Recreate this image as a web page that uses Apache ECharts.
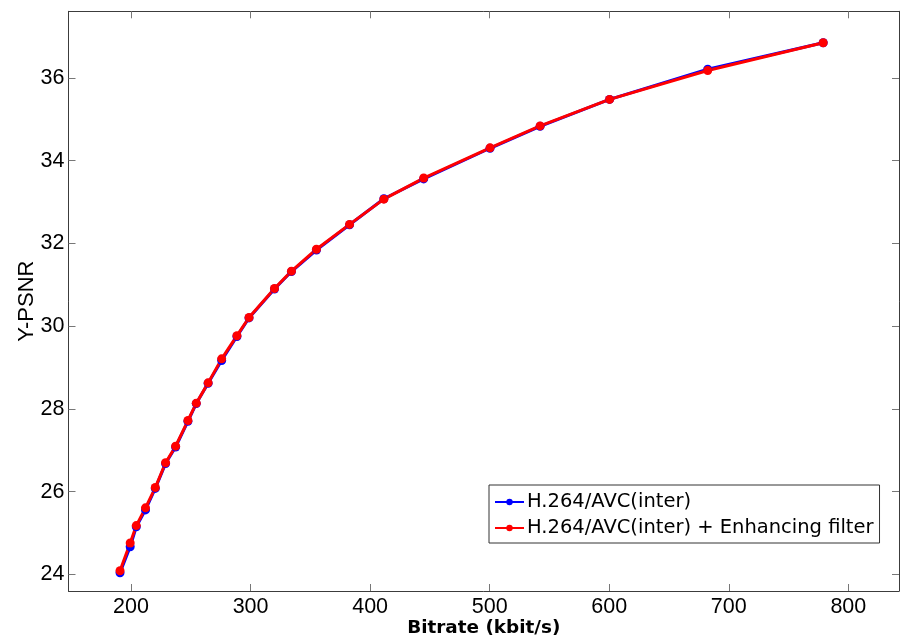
<!DOCTYPE html>
<html><head><meta charset="utf-8">
<script src="https://cdn.jsdelivr.net/npm/echarts@6/dist/echarts.min.js"></script>
<style>html,body{margin:0;padding:0;background:#fff}#c{width:900px;height:641px}</style>
</head><body><div id="c"></div>
<script>
const bitrate = [190.8,199.3,204.4,212.1,220.3,228.9,237.3,247.6,254.6,264.5,275.8,288.6,298.7,320.0,334.2,355.1,382.8,411.5,444.8,500.3,542.2,600.3,682.4,779.0];
const psnrInter = [24.04,24.67,25.15,25.56,26.08,26.68,27.08,27.70,28.13,28.62,29.17,29.75,30.20,30.90,31.32,31.84,32.45,33.08,33.56,34.30,34.83,35.48,36.21,36.85];
const psnrFilter = [24.09,24.76,25.18,25.61,26.10,26.70,27.10,27.72,28.14,28.63,29.21,29.77,30.21,30.91,31.33,31.86,32.46,33.07,33.58,34.31,34.84,35.48,36.18,36.85];
const xTicks = [200,300,400,500,600,700,800];
const yTicks = [24,26,28,30,32,34,36];
const seriesNames = ['H.264/AVC(inter)','H.264/AVC(inter) + Enhancing filter'];

const FONT = '"Liberation Sans", Arial, sans-serif';
const WIDE = '"DejaVu Sans", sans-serif';
const axisColor = '#3c3c3c';
const xMin = 147.7, xMax = 842.4, yMin = 23.6, yMax = 37.61;

function pairs(xs, ys){ return xs.map((x,i)=>[x, ys[i]]); }

const chart = echarts.init(document.getElementById('c'), null, {renderer:'canvas'});
const baseX = {
  type:'value', min:xMin, max:xMax,
  axisLine:{show:true, onZero:false, lineStyle:{color:axisColor, width:1}},
  splitLine:{show:false}
};
const baseY = {
  type:'value', min:yMin, max:yMax,
  axisLine:{show:true, onZero:false, lineStyle:{color:axisColor, width:1}},
  splitLine:{show:false}
};
chart.setOption({
  animation:false,
  backgroundColor:'#fff',
  grid:{left:68.5, right:1, top:11.3, bottom:50, containLabel:false, outerBoundsMode:'none'},
  xAxis:[
    Object.assign({}, baseX, {
      position:'bottom',
      name:'Bitrate (kbit/s)', nameLocation:'middle', nameGap:28, nameMoveOverlap:false,
      nameTextStyle:{fontFamily:WIDE, fontSize:18.4, fontWeight:'bold', color:'#000'},
      axisTick:{show:true, inside:true, length:7, customValues:xTicks, lineStyle:{color:'#777'}},
      axisLabel:{show:true, margin:5, customValues:xTicks, fontFamily:FONT, fontSize:21.5, color:'#000'}
    }),
    Object.assign({}, baseX, {
      position:'top',
      axisTick:{show:true, inside:true, length:7, customValues:xTicks, lineStyle:{color:'#777'}},
      axisLabel:{show:false}
    })
  ],
  yAxis:[
    Object.assign({}, baseY, {
      position:'left',
      name:'Y-PSNR', nameLocation:'middle', nameGap:31, nameMoveOverlap:false,
      nameTextStyle:{fontFamily:FONT, fontSize:22, color:'#000'},
      axisTick:{show:true, inside:true, length:7, customValues:yTicks, lineStyle:{color:'#777'}},
      axisLabel:{show:true, margin:4, customValues:yTicks, fontFamily:FONT, fontSize:21.5, color:'#000'}
    }),
    Object.assign({}, baseY, {
      position:'right',
      axisTick:{show:true, inside:true, length:7, customValues:yTicks, lineStyle:{color:'#777'}},
      axisLabel:{show:false}
    })
  ],
  legend:{
    show:true, orient:'vertical', left:489, top:485,
    backgroundColor:'#fff', borderColor:'#333', borderWidth:1,
    padding:[7,6,5,5], itemGap:6, itemWidth:29, itemHeight:8,
    textStyle:{fontFamily:WIDE, fontSize:19.5, lineHeight:20, color:'#000', padding:[0,0,0,-2]},
    data:seriesNames
  },
  series:[
    {name:seriesNames[0], type:'line', xAxisIndex:0, yAxisIndex:0,
     data:pairs(bitrate, psnrInter), symbol:'circle', symbolSize:9,
     lineStyle:{color:'#0000ff', width:3}, itemStyle:{color:'#0000ff'}},
    {name:seriesNames[1], type:'line', xAxisIndex:0, yAxisIndex:0,
     data:pairs(bitrate, psnrFilter), symbol:'circle', symbolSize:9,
     lineStyle:{color:'#ff0000', width:3}, itemStyle:{color:'#ff0000'}}
  ]
});
</script>
</body></html>
